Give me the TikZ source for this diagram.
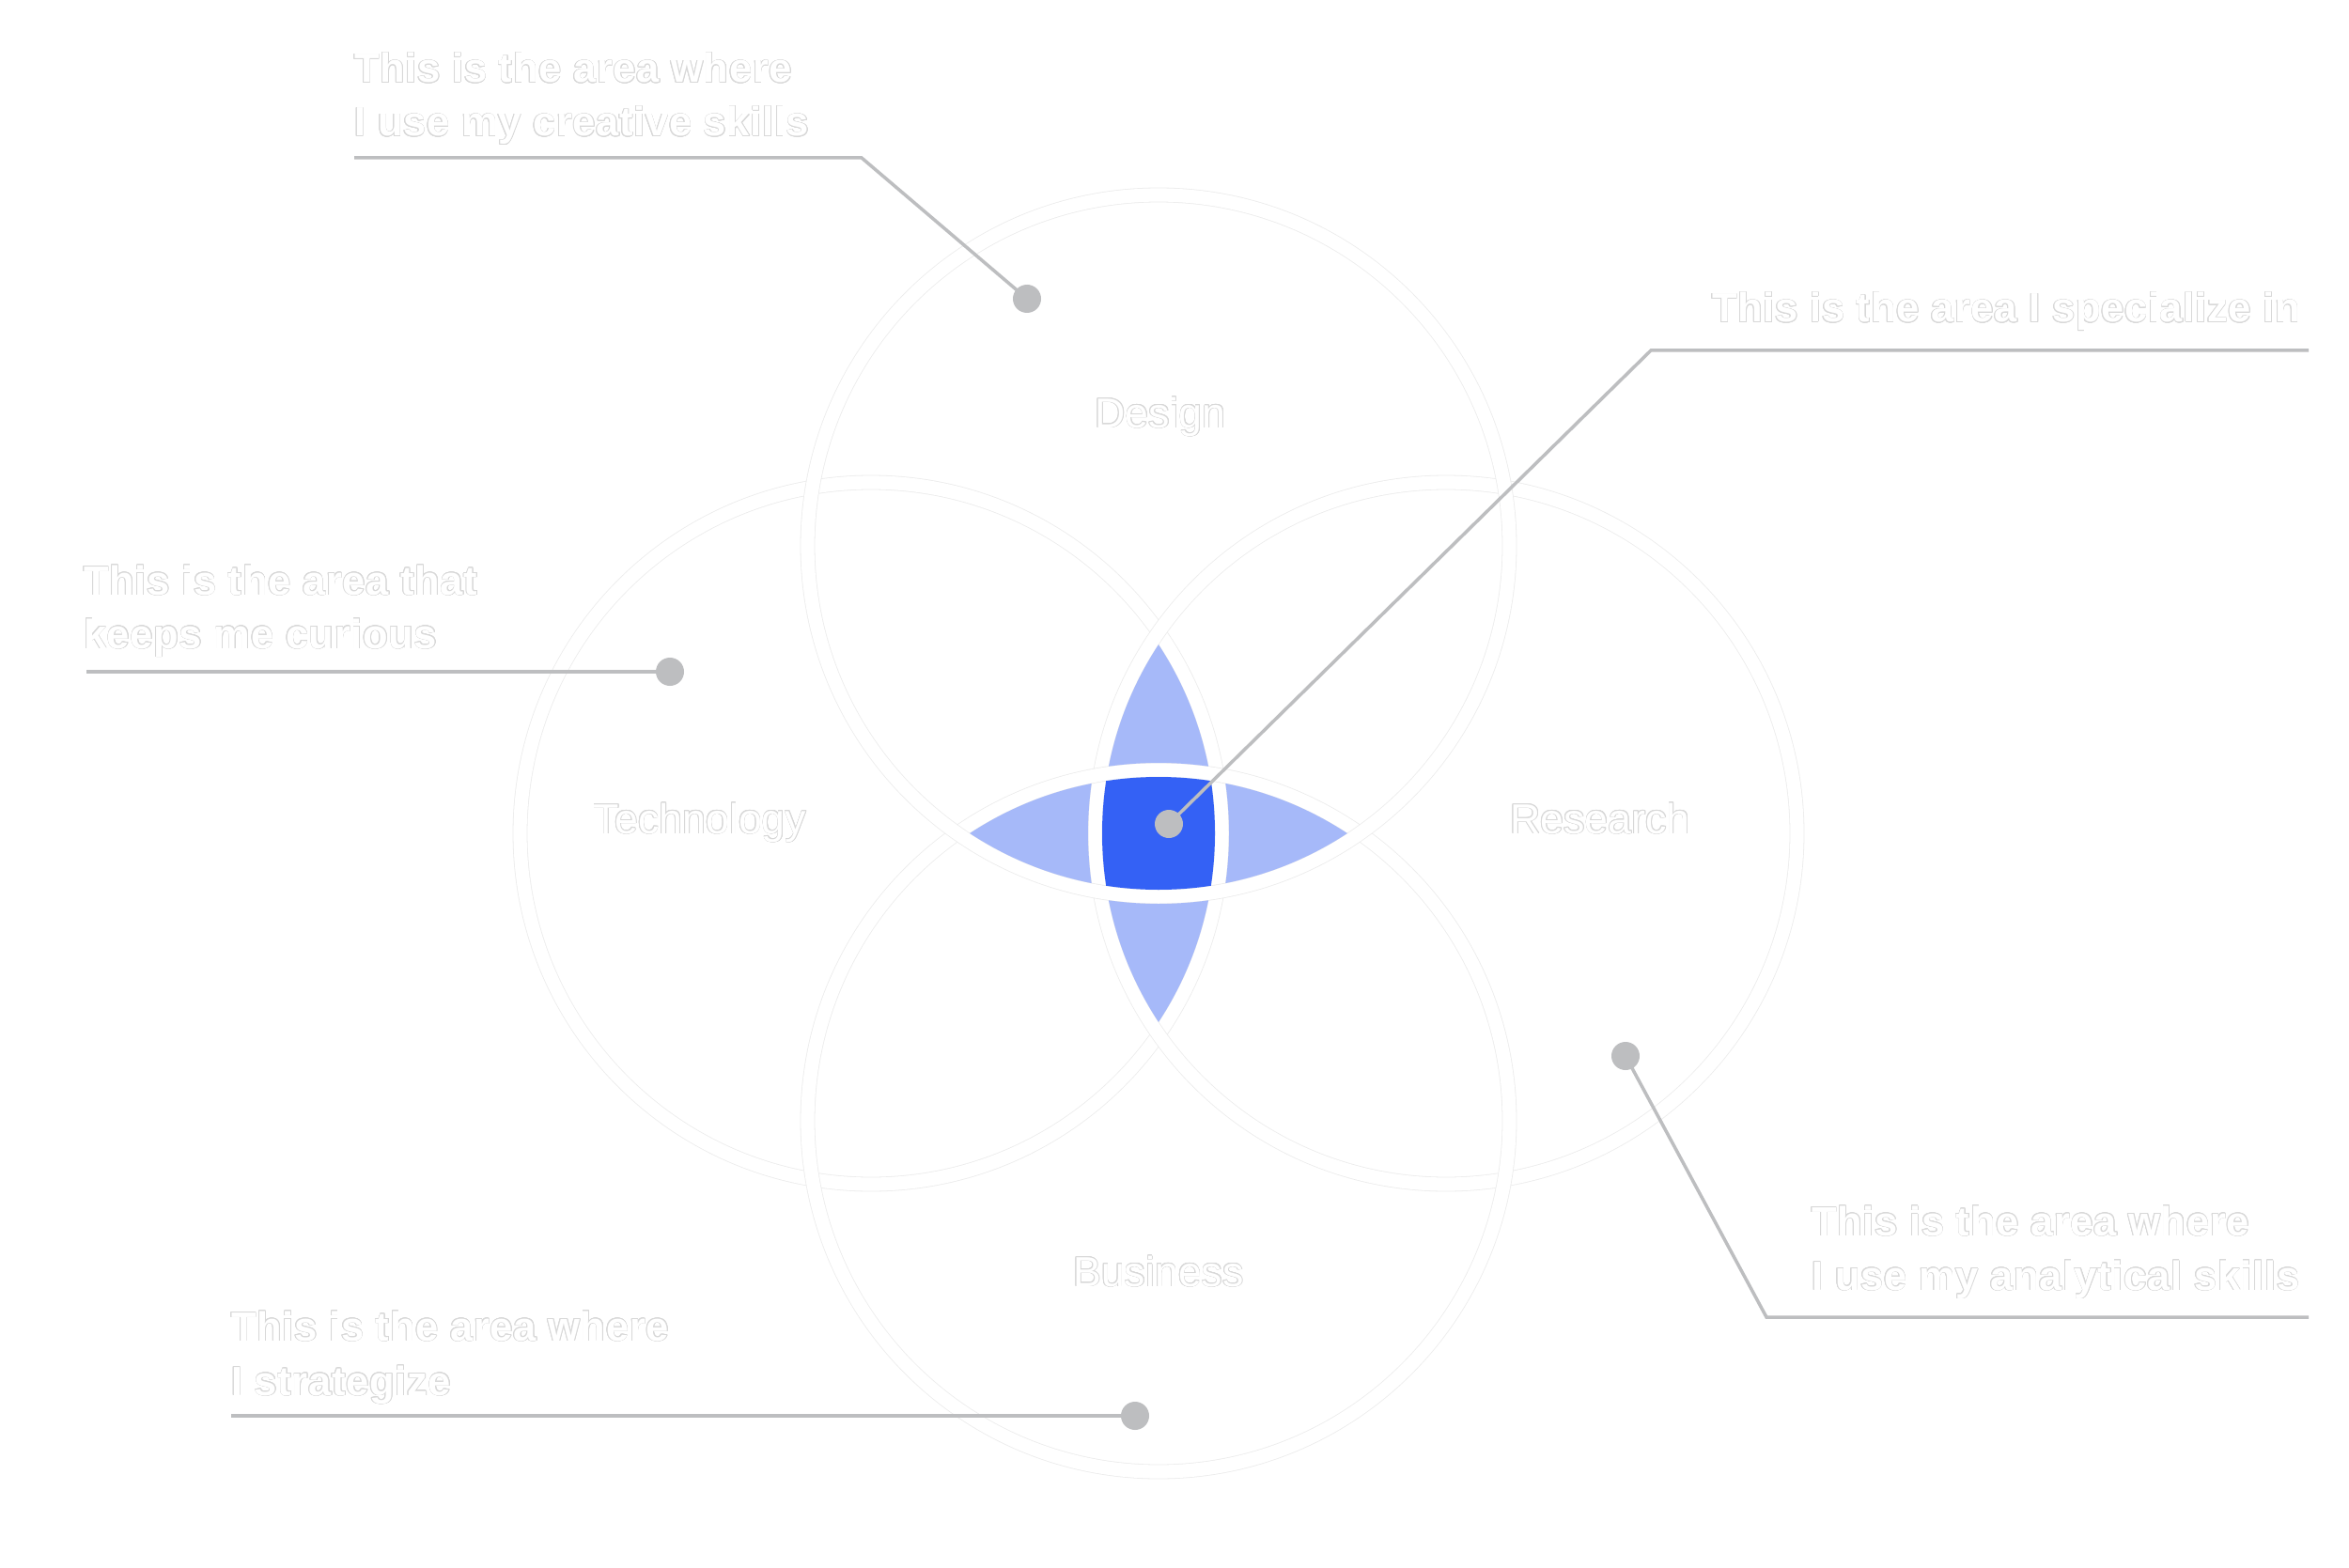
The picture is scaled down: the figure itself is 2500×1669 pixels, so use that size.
\documentclass[tikz,border=0pt]{standalone}
\usepackage{fontspec}
\setmainfont{Liberation Sans}
\newfontfamily\callfont[LetterSpace=1.5]{Liberation Sans}
\usepackage[copies]{contour}
\contourlength{0.7pt}
\contournumber{16}
\definecolor{dblue}{HTML}{3461F5}
\definecolor{lblue}{HTML}{A6B9F9}
\definecolor{lgray}{HTML}{BDBEC0}
\definecolor{ringedge}{HTML}{ECECEC}
\definecolor{textedge}{HTML}{D8D8D8}
\begin{document}
\begin{tikzpicture}[x=1pt,y=-1pt,
  ringline/.style={draw=ringedge, line width=0.8pt, double=white, double distance=14.2pt},
  leadline/.style={draw=lgray, line width=3.5pt},
  dotmark/.style={circle, fill=lgray, minimum size=30pt, inner sep=0pt},
  calltext/.style={anchor=base west, text=white, inner sep=0pt, font=\callfont\fontsize{43.5}{50}\selectfont\bfseries},
  circlabel/.style={anchor=base, text=white, inner sep=0pt, font=\fontsize{44.7}{52}\selectfont}]
\fill[white] (0,0) rectangle (2500,1669);
\useasboundingbox (0,0) rectangle (2500,1669);
\def\ringR{373.5}
\def\rin{366}
\def\rout{381}
\coordinate (cD) at (1233,581);
\coordinate (cT) at (927,887);
\coordinate (cR) at (1539,887);
\coordinate (cB) at (1233,1193);
% rings
\draw[ringline] (cT) circle[radius=\ringR];
\draw[ringline] (cR) circle[radius=\ringR];
\draw[ringline] (cB) circle[radius=\ringR];
\draw[ringline] (cD) circle[radius=\ringR];
% petals
\begin{scope}
  \clip (cD) circle[radius=\rin]; \clip (cT) circle[radius=\rin]; \clip (cR) circle[radius=\rin];
  \fill[lblue, even odd rule] (0,0) rectangle (2500,1669) (cB) circle[radius=\rout];
\end{scope}
\begin{scope}
  \clip (cB) circle[radius=\rin]; \clip (cT) circle[radius=\rin]; \clip (cR) circle[radius=\rin];
  \fill[lblue, even odd rule] (0,0) rectangle (2500,1669) (cD) circle[radius=\rout];
\end{scope}
\begin{scope}
  \clip (cD) circle[radius=\rin]; \clip (cB) circle[radius=\rin]; \clip (cT) circle[radius=\rin];
  \fill[lblue, even odd rule] (0,0) rectangle (2500,1669) (cR) circle[radius=\rout];
\end{scope}
\begin{scope}
  \clip (cD) circle[radius=\rin]; \clip (cB) circle[radius=\rin]; \clip (cR) circle[radius=\rin];
  \fill[lblue, even odd rule] (0,0) rectangle (2500,1669) (cT) circle[radius=\rout];
\end{scope}
\begin{scope}
  \clip (cD) circle[radius=\rin]; \clip (cB) circle[radius=\rin];
  \clip (cT) circle[radius=\rin]; \clip (cR) circle[radius=\rin];
  \fill[dblue] (0,0) rectangle (2500,1669);
\end{scope}
% circle labels
\node[circlabel] (lD) at (1235,455) {\contour{textedge}{Design}};
\node[circlabel] (lT) at (745,887) {\contour{textedge}{Technology}};
\node[circlabel] (lR) at (1703,887) {\contour{textedge}{Research}};
\node[circlabel] (lB) at (1233,1369) {\contour{textedge}{Business}};
% callout texts
\node[calltext] (t1a) at (377,88) {\contour{textedge}{This is the area where}};
\node[calltext] (t1b) at (377,145) {\contour{textedge}{I use my creative skills}};
\node[calltext] (t2a) at (1822,343) {\contour{textedge}{This is the area I specialize in}};
\node[calltext] (t3a) at (89,633) {\contour{textedge}{This is the area that}};
\node[calltext] (t3b) at (89,690) {\contour{textedge}{keeps me curious}};
\node[calltext] (t4a) at (246,1427) {\contour{textedge}{This is the area where}};
\node[calltext] (t4b) at (246,1485) {\contour{textedge}{I strategize}};
\node[calltext] (t5a) at (1928,1315) {\contour{textedge}{This is the area where}};
\node[calltext] (t5b) at (1928,1373) {\contour{textedge}{I use my analytical skills}};
% leader lines
\coordinate (s1) at (377,168);  \coordinate (b1) at (917,168);
\coordinate (s2) at (2457,373); \coordinate (b2) at (1757,373);
\coordinate (s3) at (92,715);
\coordinate (s4) at (246,1507);
\coordinate (s5) at (2457,1402); \coordinate (b5) at (1880,1402);
\coordinate (p1) at (1093,318);
\coordinate (p2) at (1244,877);
\coordinate (p3) at (713,715);
\coordinate (p4) at (1208,1507);
\coordinate (p5) at (1730,1124);
\draw[leadline] (s1) -- (b1) -- (p1);
\draw[leadline] (s2) -- (b2) -- (p2);
\draw[leadline] (s3) -- (p3);
\draw[leadline] (s4) -- (p4);
\draw[leadline] (s5) -- (b5) -- (p5);
\node[dotmark] (d1) at (p1) {};
\node[dotmark] (d2) at (p2) {};
\node[dotmark] (d3) at (p3) {};
\node[dotmark] (d4) at (p4) {};
\node[dotmark] (d5) at (p5) {};
\end{tikzpicture}
\end{document}
